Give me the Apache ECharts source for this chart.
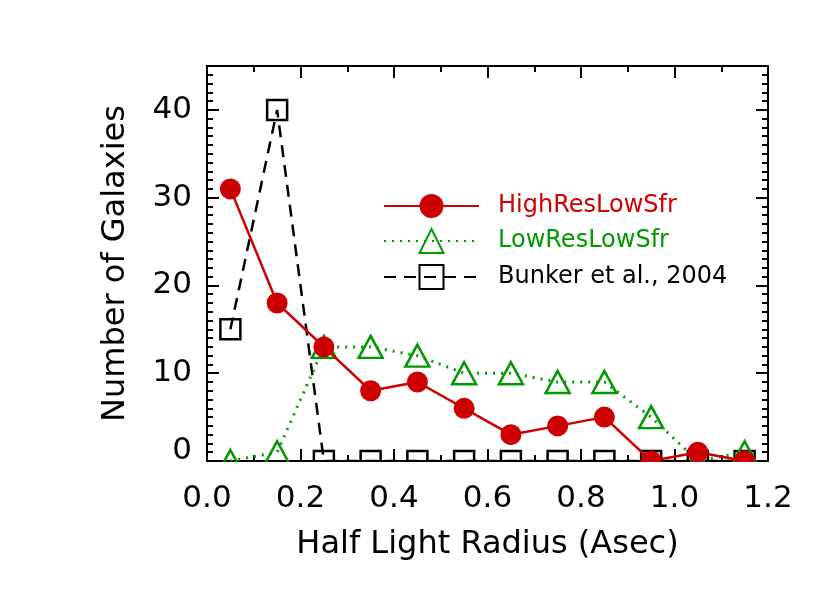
<!DOCTYPE html>
<html>
<head>
<meta charset="utf-8">
<script src="https://cdn.jsdelivr.net/npm/echarts@6/dist/echarts.min.js"></script>
<style>
  html, body { margin: 0; padding: 0; background: #fff; }
  #chart { width: 830px; height: 593px; }
</style>
</head>
<body>
<div id="chart"></div>
<script>
// bin centres (Asec)
const radius = [0.05, 0.15, 0.25, 0.35, 0.45, 0.55, 0.65, 0.75, 0.85, 0.95, 1.05, 1.15];
const highResLowSfr = [31, 18, 13, 8, 9, 6, 3, 4, 5, 0, 1, 0];
const lowResLowSfr = [0, 1, 13, 13, 12, 10, 10, 9, 9, 5, 0, 1];
const bunker2004 = [15, 40, 0, 0, 0, 0, 0, 0, 0, 0, 0, 0];

const RED = '#cc0000';
const GREEN = '#009900';
const BLACK = '#000000';
const FONT = 'DejaVu Sans';

const pairs = (ys) => radius.map((x, i) => [x, ys[i]]);

const chart = echarts.init(document.getElementById('chart'), null, { renderer: 'canvas' });

const frameLine = { show: true, onZero: false, lineStyle: { color: BLACK, width: 2 } };
const xTick = { show: true, inside: true, length: 12, lineStyle: { color: BLACK, width: 2 } };
const xMinor = { show: true, splitNumber: 2, length: 6, lineStyle: { color: BLACK, width: 2 } };
const yTick = { show: true, inside: true, length: 12, lineStyle: { color: BLACK, width: 2 } };
const yMinor = { show: true, splitNumber: 10, length: 6, lineStyle: { color: BLACK, width: 2 } };

chart.setOption({
  backgroundColor: '#fff',
  animation: false,
  grid: { left: 207, right: 62, top: 66, bottom: 132 },
  legend: {
    orient: 'vertical',
    left: 378,
    top: 189,
    itemWidth: 95,
    itemHeight: 30,
    itemGap: 10,
    data: [
      { name: 'HighResLowSfr', textStyle: { color: RED } },
      { name: 'LowResLowSfr', textStyle: { color: GREEN } },
      { name: 'Bunker et al., 2004', textStyle: { color: BLACK } },
    ],
    textStyle: { fontFamily: FONT, fontSize: 24, padding: [2, 0, 2, 14] },
  },
  xAxis: [
    {
      type: 'value',
      min: 0,
      max: 1.2,
      interval: 0.2,
      position: 'bottom',
      axisLine: frameLine,
      axisTick: xTick,
      minorTick: xMinor,
      splitLine: { show: false },
      axisLabel: {
        color: BLACK, fontFamily: FONT, fontSize: 31, margin: 22,
        formatter: (v) => v.toFixed(1),
      },
      name: 'Half Light Radius (Asec)',
      nameLocation: 'middle',
      nameGap: 68,
      nameTextStyle: { color: BLACK, fontFamily: FONT, fontSize: 32 },
    },
    {
      type: 'value',
      min: 0,
      max: 1.2,
      interval: 0.2,
      position: 'top',
      axisLine: frameLine,
      axisTick: xTick,
      minorTick: xMinor,
      splitLine: { show: false },
      axisLabel: { show: false },
    },
  ],
  yAxis: [
    {
      type: 'value',
      min: 0,
      max: 45,
      interval: 10,
      position: 'left',
      axisLine: frameLine,
      axisTick: yTick,
      minorTick: yMinor,
      splitLine: { show: false },
      axisLabel: {
        color: BLACK, fontFamily: FONT, fontSize: 31, margin: 15,
        showMaxLabel: false,
        formatter: (v) => (v === 0 ? '{z|0}' : String(v)),
        rich: { z: { fontFamily: FONT, fontSize: 31, color: BLACK, padding: [0, 0, 20, 0] } },
      },
      name: 'Number of Galaxies',
      nameLocation: 'middle',
      nameGap: 75,
      nameTextStyle: { color: BLACK, fontFamily: FONT, fontSize: 32 },
    },
    {
      type: 'value',
      min: 0,
      max: 45,
      interval: 10,
      position: 'right',
      axisLine: frameLine,
      axisTick: yTick,
      minorTick: yMinor,
      splitLine: { show: false },
      axisLabel: { show: false },
    },
  ],
  series: [
    {
      name: 'Bunker et al., 2004',
      type: 'line',
      data: pairs(bunker2004),
      symbol: 'rect',
      symbolSize: 20,
      lineStyle: { color: BLACK, width: 2.5, type: [12, 8] },
      itemStyle: { color: 'rgba(0,0,0,0)', borderColor: BLACK, borderWidth: 2.5 },
      z: 3,
    },
    {
      name: 'LowResLowSfr',
      type: 'line',
      data: pairs(lowResLowSfr),
      symbol: 'triangle',
      symbolSize: [24, 22],
      lineStyle: { color: GREEN, width: 3, type: [2, 6] },
      itemStyle: { color: 'rgba(0,0,0,0)', borderColor: GREEN, borderWidth: 2.5 },
      z: 4,
    },
    {
      name: 'HighResLowSfr',
      type: 'line',
      data: pairs(highResLowSfr),
      symbol: 'circle',
      symbolSize: 21,
      lineStyle: { color: RED, width: 2.5 },
      itemStyle: { color: RED },
      z: 5,
    },
  ],
  // mask marks hanging below the bottom frame, like the clipped original
  graphic: [
    {
      type: 'rect',
      z: 100,
      shape: { x: 195, y: 462, width: 590, height: 16 },
      style: { fill: '#fff' },
    },
  ],
});
</script>
</body>
</html>
